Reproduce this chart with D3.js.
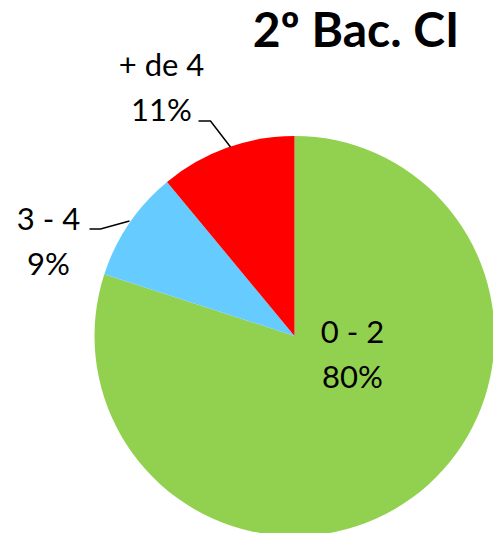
<!DOCTYPE html>
<html><head><meta charset="utf-8">
<script src="https://cdn.jsdelivr.net/npm/d3@7"></script>
<style>body{margin:0;background:#fff;overflow:hidden}</style>
</head><body>
<script>
const categories = ["0 - 2", "3 - 4", "+ de 4"];
const values = [80, 9, 11];
const colors = ["#92D050", "#66CCFF", "#FF0000"];
const title = "2º Bac. CI";

const W = 493, H = 533, cx = 294.5, cy = 336, R = 200;
const font = "Lato, 'Open Sans', sans-serif";
const svg = d3.select("body").append("svg").attr("width", W).attr("height", H);

const pie = d3.pie().sort(null).value(d => d.v);
const arcs = pie(categories.map((c, i) => ({c, v: values[i], col: colors[i]})));
const arc = d3.arc().innerRadius(0).outerRadius(R);
const g = svg.append("g").attr("transform", `translate(${cx},${cy})`);
g.selectAll("path").data(arcs).join("path").attr("d", arc).attr("fill", d => d.data.col);

// label layout (relative to pie center): text center x, first baseline y, leader line points
const layout = [
  {x: 58, y: 7, line: null},
  {x: -246, y: -106, line: [[-205, -107], [-194, -107], [-165, -115]]},
  {x: -133, y: -260, line: [[-96, -215], [-84, -215], [-64, -189]]}
];
const total = d3.sum(values);
arcs.forEach((a, i) => {
  const L = layout[i];
  const t = g.append("text").attr("text-anchor", "middle").attr("font-family", font)
    .attr("font-size", 31).attr("fill", "#000");
  t.append("tspan").attr("x", L.x).attr("y", L.y).text(a.data.c);
  t.append("tspan").attr("x", L.x).attr("y", L.y + 45).text(Math.round(a.data.v / total * 100) + "%");
  if (L.line) g.append("path").attr("d", d3.line()(L.line)).attr("fill", "none").attr("stroke", "#000").attr("stroke-width", 1.5);
});

svg.append("text").attr("x", 356).attr("y", 47).attr("text-anchor", "middle")
  .attr("font-family", font).attr("font-weight", "bold").attr("font-size", 48).text(title);
</script>
</body></html>
